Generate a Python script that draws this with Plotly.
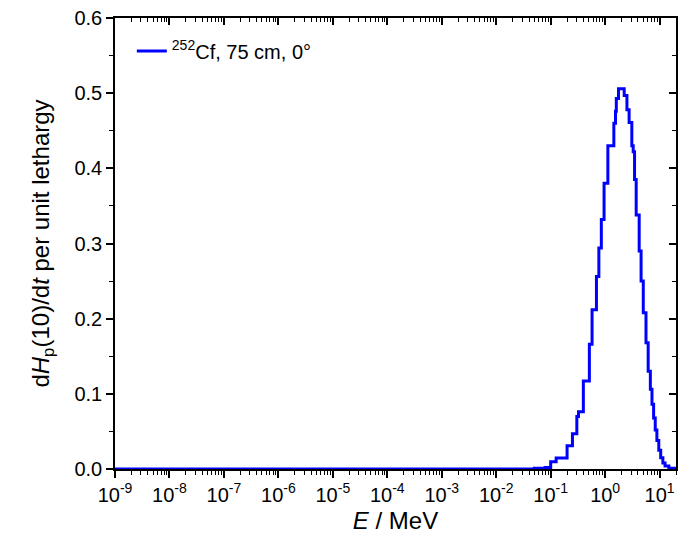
import plotly.graph_objects as go

# Bin lower edges (MeV) and per-bin values
bin_edges = [1e-9, 0.050, 0.079, 0.100, 0.126, 0.200, 0.251, 0.302, 0.324, 0.398,
             0.513, 0.575, 0.692, 0.767, 0.851, 0.955, 1.122, 1.445, 1.549, 1.603,
             1.758, 2.239, 2.512, 2.754, 3.090, 3.273, 3.467, 3.715, 4.217, 4.571,
             5.012, 5.623, 6.166, 6.761, 7.244, 7.762, 8.318, 8.913, 9.661, 10.47,
             11.48, 12.59, 14.79, 20.0]
bin_values = [0.0, 0.001, 0.002, 0.0095, 0.0145, 0.031, 0.047, 0.070, 0.076, 0.117,
              0.166, 0.212, 0.256, 0.294, 0.332, 0.380, 0.430, 0.460, 0.476, 0.493,
              0.506, 0.497, 0.478, 0.461, 0.430, 0.422, 0.385, 0.338, 0.290, 0.250,
              0.208, 0.168, 0.130, 0.106, 0.086, 0.068, 0.052, 0.038, 0.025, 0.015,
              0.008, 0.004, 0.001, 0.0]

x_tickvals = [1e-9, 1e-8, 1e-7, 1e-6, 1e-5, 1e-4, 1e-3, 1e-2, 1e-1, 1e0, 1e1]
x_ticktext = ["10<sup>-9</sup>", "10<sup>-8</sup>", "10<sup>-7</sup>", "10<sup>-6</sup>",
              "10<sup>-5</sup>", "10<sup>-4</sup>", "10<sup>-3</sup>", "10<sup>-2</sup>",
              "10<sup>-1</sup>", "10<sup>0</sup>", "10<sup>1</sup>"]
x_minor = [m * d for d in x_tickvals[:-1] for m in range(2, 10)] + [20.0]
y_tickvals = [0.0, 0.1, 0.2, 0.3, 0.4, 0.5, 0.6]
y_ticktext = ["0.0", "0.1", "0.2", "0.3", "0.4", "0.5", "0.6"]

FONT = "Arial, Liberation Sans, sans-serif"
BLUE = "#0000FF"

fig = go.Figure()
fig.add_trace(go.Scatter(
    x=bin_edges, y=bin_values, mode="lines",
    line=dict(color=BLUE, width=3, shape="hv"),
    name="<sup>252</sup>Cf, 75 cm, 0°",
))

XRANGE = [-9, 1.30103]
axis_common = dict(showgrid=False, zeroline=False, linecolor="black", linewidth=1.5,
                   tickcolor="black", tickwidth=1.5)

fig.update_layout(
    width=679, height=541,
    margin=dict(l=115, r=3, t=18, b=72),
    paper_bgcolor="white", plot_bgcolor="white",
    font=dict(family=FONT, color="black", size=20),
    showlegend=True,
    legend=dict(x=0.03, y=0.97, xanchor="left", yanchor="top",
                bgcolor="rgba(0,0,0,0)", font=dict(size=20, family=FONT)),
    xaxis=dict(type="log", range=XRANGE, tickvals=x_tickvals, ticktext=x_ticktext,
               ticks="outside", ticklen=7, tickfont=dict(size=20, family=FONT),
               minor=dict(tickvals=x_minor, ticks="outside", ticklen=4,
                          tickwidth=1.2, tickcolor="black"),
               title=dict(text="<i>E</i> / MeV", font=dict(size=24, family=FONT), standoff=7),
               **axis_common),
    yaxis=dict(range=[0, 0.6], tickvals=y_tickvals, ticktext=y_ticktext,
               ticks="outside", ticklen=7, tickfont=dict(size=20, family=FONT),
               minor=dict(dtick=0.05, ticks="outside", ticklen=4,
                          tickwidth=1.2, tickcolor="black"),
               title=dict(text="d<i>H</i><sub>p</sub>(10)/d<i>t</i> per unit lethargy",
                          font=dict(size=24, family=FONT), standoff=18),
               **axis_common),
    xaxis2=dict(type="log", range=XRANGE, overlaying="x", side="top",
                tickvals=x_tickvals, showticklabels=False, ticks="inside", ticklen=7,
                minor=dict(tickvals=x_minor, ticks="inside", ticklen=4,
                           tickwidth=1.2, tickcolor="black"),
                **axis_common),
    yaxis2=dict(range=[0, 0.6], overlaying="y", side="right",
                tickvals=y_tickvals, showticklabels=False, ticks="inside", ticklen=7,
                minor=dict(dtick=0.05, ticks="inside", ticklen=4,
                           tickwidth=1.2, tickcolor="black"),
                **axis_common),
)

# invisible trace to activate the mirrored axes
fig.add_trace(go.Scatter(x=[1e-9], y=[0], xaxis="x2", yaxis="y2", mode="markers",
                         marker=dict(opacity=0), showlegend=False, hoverinfo="skip"))

fig.write_html("out.html")
